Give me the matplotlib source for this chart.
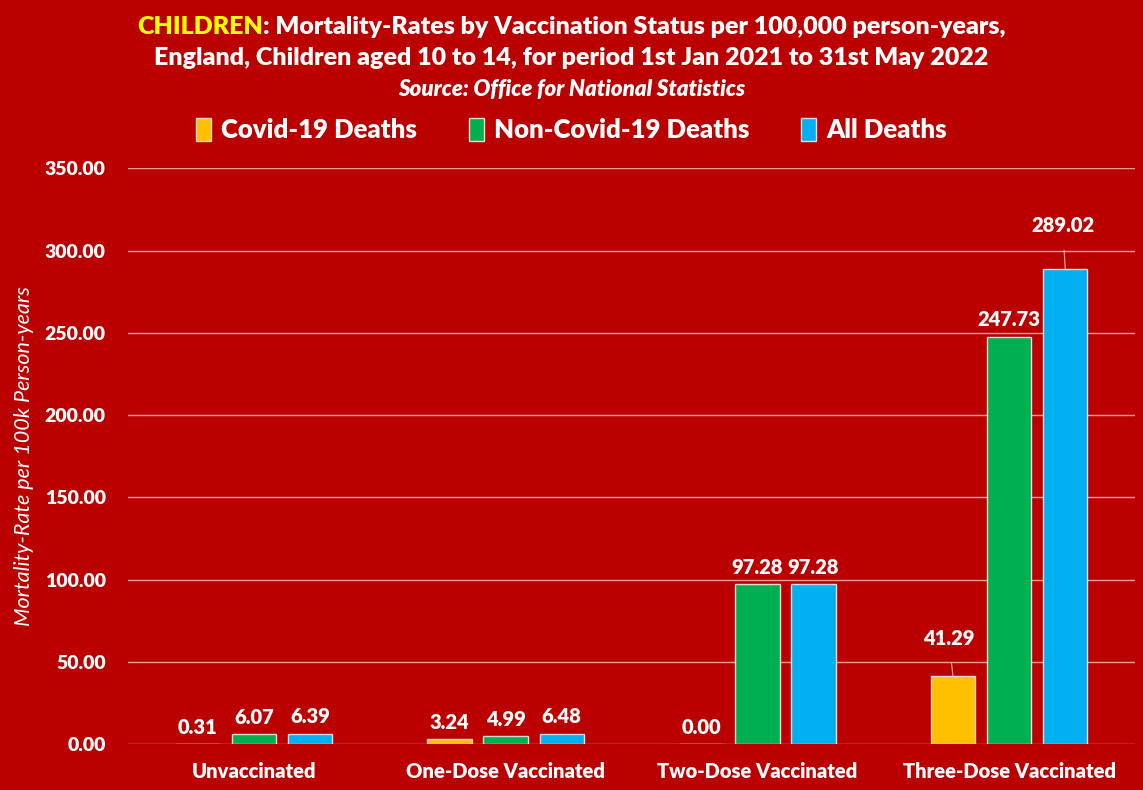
import numpy as np
import matplotlib
matplotlib.use("Agg")
from matplotlib import pyplot as plt

categories = ["Unvaccinated", "One-Dose Vaccinated", "Two-Dose Vaccinated", "Three-Dose Vaccinated"]
series_names = ["Covid-19 Deaths", "Non-Covid-19 Deaths", "All Deaths"]
covid = [0.31, 3.24, 0.00, 41.29]
non_covid = [6.07, 4.99, 97.28, 247.73]
all_deaths = [6.39, 6.48, 97.28, 289.02]
y_ticks = [0, 50, 100, 150, 200, 250, 300, 350]

bg = "#BB0000"
colors = ["#FFC000", "#00B050", "#00B0F0"]
WT = 800  # heavy weight, close to Calibri bold

plt.rcParams['font.family'] = ['Lato', 'DejaVu Sans']

fig = plt.figure(figsize=(11.43, 7.9), dpi=100, facecolor=bg)
ax = fig.add_axes([0.112, 0.058, 0.881, 0.729])
ax.set_facecolor(bg)

x = np.arange(len(categories))
offs = [-0.223, 0.0, 0.223]
w = 0.176
bars = []
for vals, off, col, name in zip([covid, non_covid, all_deaths], offs, colors, series_names):
    b = ax.bar(x + off, vals, w, color=col, edgecolor="#F2D8D8", linewidth=1.0, label=name, zorder=3)
    bars.append(b)

# value labels
for s, vals in enumerate([covid, non_covid, all_deaths]):
    for i, v in enumerate(vals):
        dx, dy, leader = 0, 12, False
        if s == 0 and i == 3:
            dx, dy, leader = -3, 27, True
        if s == 2 and i == 3:
            dx, dy, leader = -2, 31, True
        if leader:
            ax.annotate(f"{v:.2f}", xy=(x[i] + offs[s], v), xytext=(dx, dy),
                        textcoords="offset points", ha="center", va="center",
                        color="white", fontsize=14.5, fontweight=WT,
                        arrowprops=dict(arrowstyle="-", color="#E8B0B0", lw=0.8,
                                        shrinkA=9, shrinkB=0), zorder=5)
        else:
            ax.annotate(f"{v:.2f}", xy=(x[i] + offs[s], v), xytext=(dx, dy),
                        textcoords="offset points", ha="center", va="center",
                        color="white", fontsize=14.5, fontweight=WT, zorder=5)

ax.set_xlim(-0.5, 3.5)
ax.set_ylim(0, 350)
ax.set_yticks(y_ticks)
ax.set_yticklabels([f"{t:.2f}" for t in y_ticks])
ax.set_xticks(x)
ax.set_xticklabels(categories)
ax.tick_params(axis="y", length=0, pad=16, labelcolor="white", labelsize=14)
ax.tick_params(axis="x", length=0, pad=13, labelcolor="white", labelsize=14.5)
for lab in ax.get_xticklabels() + ax.get_yticklabels():
    lab.set_fontweight(WT)
ax.grid(axis="y", color="#E6A0A0", linewidth=1.0, zorder=0)
for sp in ax.spines.values():
    sp.set_visible(False)
ax.set_ylabel("Mortality-Rate per 100k Person-years", color="white", fontsize=15.5,
              fontstyle="italic")
ax.yaxis.set_label_coords(-0.093, 0.5)

# title: first word in yellow
t1 = fig.text(0.5, 0.966, "CHILDREN", color="#FFFF00", fontsize=18, fontweight=WT,
              ha="left", va="center")
t2 = fig.text(0.5, 0.966, ": Mortality-Rates by Vaccination Status per 100,000 person-years,",
              color="white", fontsize=18, fontweight=WT, ha="left", va="center")
fig.canvas.draw()
r = fig.canvas.get_renderer()
w1 = t1.get_window_extent(r).width
w2 = t2.get_window_extent(r).width
W = fig.bbox.width
start = (W - w1 - w2) / 2
t1.set_x(start / W)
t2.set_x((start + w1) / W)

fig.text(0.5, 0.927, "England, Children aged 10 to 14, for period 1st Jan 2021 to 31st May 2022",
         color="white", fontsize=18, fontweight=WT, ha="center", va="center")
fig.text(0.5, 0.887, "Source: Office for National Statistics", color="white", fontsize=16,
         fontweight=WT, fontstyle="italic", ha="center", va="center")

leg = fig.legend(handles=bars, labels=series_names, loc="center", bbox_to_anchor=(0.5, 0.835),
                 ncol=3, frameon=False, fontsize=18.5, handlelength=0.6, handleheight=1.0,
                 handletextpad=0.4, columnspacing=2.0)
for t in leg.get_texts():
    t.set_color("white")
    t.set_fontweight(WT)

fig.savefig("out.png", dpi=100, facecolor=bg)
